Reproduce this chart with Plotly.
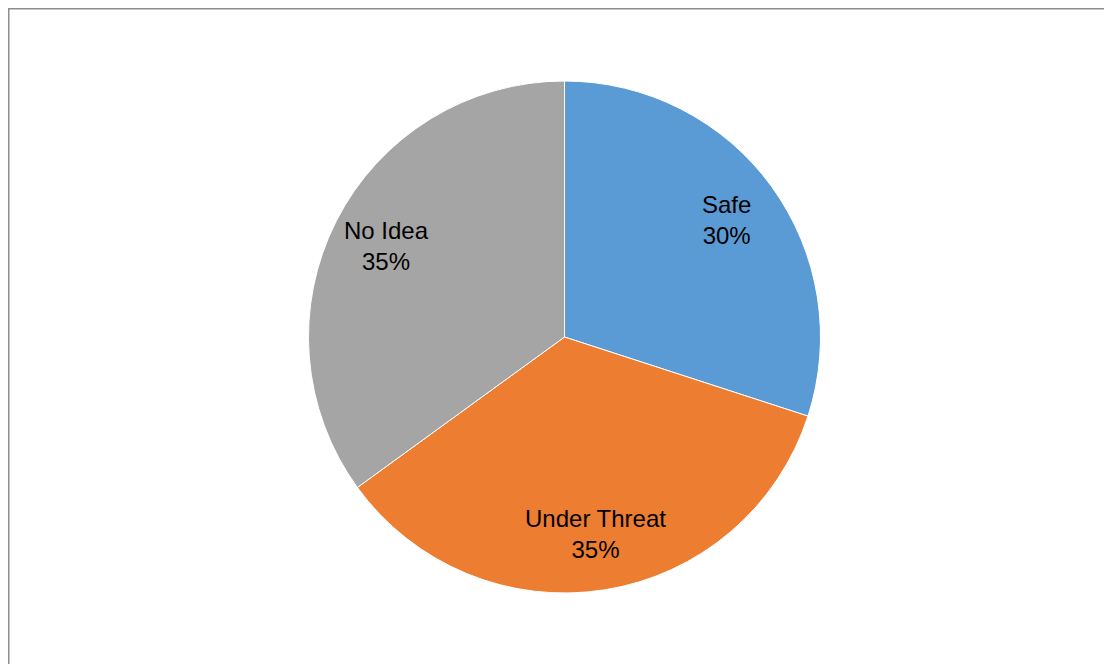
import math
import plotly.graph_objects as go

labels = ["Safe", "Under Threat", "No Idea"]
values = [30, 35, 35]
colors = ["#5B9BD5", "#ED7D31", "#A5A5A5"]

# page body has an 8px margin; work in figure coordinates (reference minus 8)
OFF = 8
W, H = 1112 - OFF, 664 - OFF
cx, cy, R = 564.5 - OFF, 337.0 - OFF, 256.0

fig = go.Figure(go.Pie(
    labels=labels, values=values, sort=False, direction="clockwise", rotation=0,
    marker=dict(colors=colors, line=dict(color="white", width=1)),
    textinfo="none", hoverinfo="label+percent", showlegend=False,
    domain=dict(x=[(cx - R) / W, (cx + R) / W], y=[(H - cy - R) / H, (H - cy + R) / H]),
))

# labels placed along each slice's mid-angle, computed from the values
total = sum(values)
start = 0.0
for lab, v in zip(labels, values):
    mid = (start + v / 2) / total * 2 * math.pi
    start += v
    r = 0.78 * R
    px = cx + r * math.sin(mid)
    py = cy - r * math.cos(mid)
    fig.add_annotation(
        x=px / W, y=1 - py / H, xref="paper", yref="paper",
        text=f"{lab}<br>{round(v / total * 100)}%", showarrow=False,
        font=dict(family="Liberation Sans, Arial, sans-serif", size=24, color="#000000"),
        align="center", xanchor="center", yanchor="middle",
    )

fig.add_shape(type="line", xref="paper", yref="paper",
              x0=0, x1=1, y0=1 - 0.75 / H, y1=1 - 0.75 / H,
              line=dict(color="#8E8E8E", width=1.5))
fig.add_shape(type="line", xref="paper", yref="paper",
              x0=0.75 / W, x1=0.75 / W, y0=0, y1=1,
              line=dict(color="#8E8E8E", width=1.5))

fig.update_layout(width=W, height=H, margin=dict(l=0, r=0, t=0, b=0),
                  paper_bgcolor="white", plot_bgcolor="white")

fig.write_html("out.html")
